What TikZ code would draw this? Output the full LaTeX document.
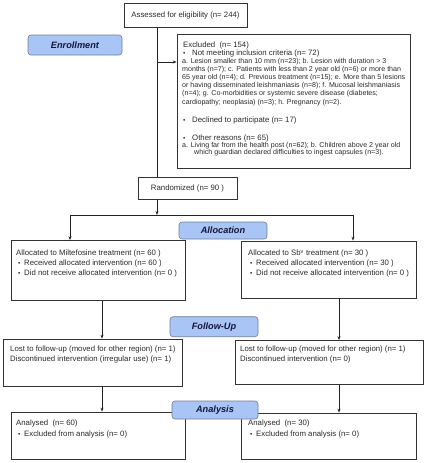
\documentclass[tikz,border=0pt]{standalone}
\usepackage{fontspec}
\setmainfont{Liberation Sans}
\usetikzlibrary{arrows.meta}
\definecolor{boxc}{HTML}{333333}
\definecolor{linec}{HTML}{222222}
\definecolor{txtc}{HTML}{2A2A2A}
\definecolor{lblf}{HTML}{A9C5F6}
\definecolor{lblb}{HTML}{6F7C96}
\definecolor{lblt}{HTML}{14163A}
\begin{document}
\begin{tikzpicture}[x=1pt,y=-1pt,
  box/.style={draw=boxc, line width=0.7pt, inner sep=0pt},
  lbl/.style={draw=lblb, line width=0.6pt, fill=lblf, rounded corners=3pt, inner sep=0pt,
    font=\fontsize{9.2}{10}\selectfont\bfseries\itshape, text=lblt},
  txt/.style={anchor=base west, inner sep=0pt, font=\fontsize{7.8}{9}\selectfont, text=txtc},
  small/.style={anchor=base west, inner sep=0pt, font=\fontsize{7.1}{8.2}\selectfont, text=txtc},
  bl/.style={anchor=base west, inner sep=0pt, font=\fontsize{6.5}{7}\selectfont, text=txtc},
  conn/.style={draw=linec, line width=0.7pt},
  arr/.style={conn, -{Stealth[length=4pt,width=3pt]}}]
\useasboundingbox (0,0) rectangle (424,463);
\fill[white] (0,0) rectangle (424,463);

% boxes
\node[box, minimum width=123pt, minimum height=24pt, font=\fontsize{7.8}{9}\selectfont, text=txtc] (assess) at (185.5,15) {Assessed for eligibility (n= 244)};
\node[box, minimum width=233pt, minimum height=134pt] (excl) at (293.5,101) {};
\node[box, minimum width=99pt, minimum height=22pt, font=\fontsize{7.8}{9}\selectfont, text=txtc] (rand) at (187.5,188) {Randomized (n= 90 )};
\node[box, minimum width=174pt, minimum height=60pt] (allocL) at (98,270.5) {};
\node[box, minimum width=175pt, minimum height=57pt] (allocR) at (328.5,269.5) {};
\node[box, minimum width=179pt, minimum height=47pt] (fuL) at (92.5,362.5) {};
\node[box, minimum width=188pt, minimum height=44pt] (fuR) at (329,362.5) {};
\node[box, minimum width=174pt, minimum height=47pt] (anL) at (98,435.5) {};
\node[box, minimum width=175pt, minimum height=46pt] (anR) at (328.5,436) {};

% connector coordinates
\coordinate (vx) at (157,62);
\coordinate (hj) at (157,215);
\coordinate (hl) at (70,215);
\coordinate (hr) at (353,215);
\coordinate (cL) at (102,0);
\coordinate (cR) at (339,0);

\draw[conn] (assess.south -| vx) -- (rand.north -| vx);
\draw[arr] (vx) -- (vx -| excl.west);
\draw[arr] (rand.south -| hj) -- (hj);
\draw[conn] (hl) -- (hr);
\draw[arr] (hl) -- (allocL.north -| hl);
\draw[arr] (hr) -- (allocR.north -| hr);
\draw[arr] (allocL.south -| cL) -- (fuL.north -| cL);
\draw[arr] (allocR.south -| cR) -- (fuR.north -| cR);
\draw[arr] (fuL.south -| cL) -- (anL.north -| cL);
\draw[arr] (fuR.south -| cR) -- (anR.north -| cR);

% labels
\node[lbl, minimum width=94pt, minimum height=20pt] (lenr) at (75,45) {Enrollment};
\node[lbl, minimum width=88pt, minimum height=17pt] (lall) at (223,230.5) {Allocation};
\node[lbl, minimum width=88pt, minimum height=20pt] (lfu) at (214,326.7) {Follow-Up};
\node[lbl, minimum width=86pt, minimum height=18pt] (lan) at (215,410) {Analysis};

% excluded text
\node[txt] (e1) at (183,47.6) {Excluded\ \ (n= 154)};
\node[bl] (eb1) at (183,55.3) {\textbullet};
\node[txt] (e2) at (192,55.3) {Not meeting inclusion criteria (n= 72)};
\node[small] (e3) at (182,63) {a. Lesion smaller than 10 mm (n=23); b. Lesion with duration > 3};
\node[small] (e4) at (182,71.2) {months (n=7); c. Patients with less than 2 year old (n=6) or more than};
\node[small] (e5) at (182,79.4) {65 year old (n=4); d. Previous treatment (n=15); e. More than 5 lesions};
\node[small] (e6) at (182,87.6) {or having disseminated leishmaniasis (n=8); f. Mucosal leishmaniasis};
\node[small] (e7) at (182,95.8) {(n=4); g. Co-morbidities or systemic severe disease (diabetes;};
\node[small] (e8) at (182,104) {cardiopathy; neoplasia) (n=3); h. Pregnancy (n=2).};
\node[bl] (eb2) at (183,122.6) {\textbullet};
\node[txt] (e9) at (192,122.6) {Declined to participate (n= 17)};
\node[bl] (eb3) at (183,140.3) {\textbullet};
\node[txt] (e10) at (192,140.3) {Other reasons (n= 65)};
\node[small] (e11) at (182,147.4) {a. Living far from the health post (n=62); b. Children above 2 year old};
\node[small] (e12) at (194,154.2) {which guardian declared difficulties to ingest capsules (n=3).};

% allocation text
\node[txt] (a1) at (16,255.9) {Allocated to Miltefosine treatment (n= 60 )};
\node[bl] (ab1) at (18,265.9) {\textbullet};
\node[txt] (a2) at (24,265.9) {Received allocated intervention (n= 60 )};
\node[bl] (ab2) at (18,275.9) {\textbullet};
\node[txt] (a3) at (24,275.9) {Did not receive allocated intervention (n= 0 )};
\node[txt] (b1) at (248,255.9) {Allocated to Sb\textsuperscript{v} treatment (n= 30 )};
\node[bl] (bb1) at (250,265.9) {\textbullet};
\node[txt] (b2) at (256,265.9) {Received allocated intervention (n= 30 )};
\node[bl] (bb2) at (250,275.9) {\textbullet};
\node[txt] (b3) at (256,275.9) {Did not receive allocated intervention (n= 0 )};

% follow-up text
\node[txt] (f1) at (10,351.6) {Lost to follow-up (moved for other region) (n= 1)};
\node[txt] (f2) at (10,361.6) {Discontinued intervention (irregular use) (n= 1)};
\node[txt] (g1) at (240,351.6) {Lost to follow-up (moved for other region) (n= 1)};
\node[txt] (g2) at (240,361.6) {Discontinued intervention (n= 0)};

% analysis text
\node[txt] (n1) at (16,425.6) {Analysed\ \ (n= 60)};
\node[bl] (nb1) at (18,436.6) {\textbullet};
\node[txt] (n2) at (24,436.6) {Excluded from analysis (n= 0)};
\node[txt] (m1) at (248,425.6) {Analysed\ \ (n= 30)};
\node[bl] (mb1) at (250,436.6) {\textbullet};
\node[txt] (m2) at (256,436.6) {Excluded from analysis (n= 0)};
\end{tikzpicture}
\end{document}
